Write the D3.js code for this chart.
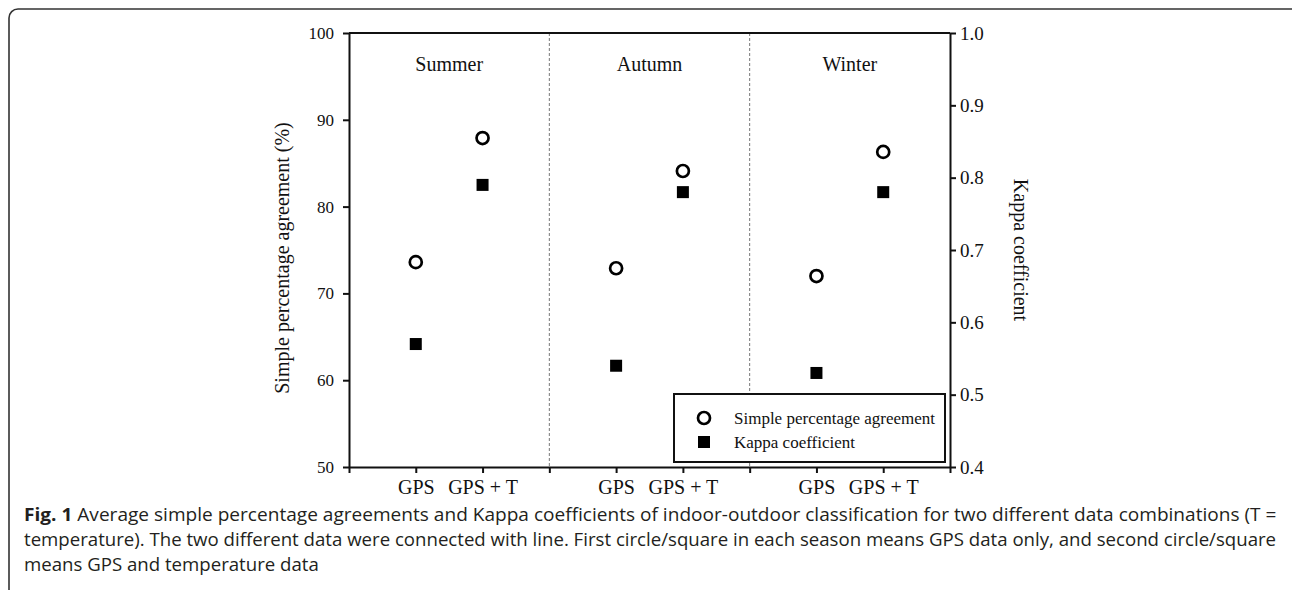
<!DOCTYPE html>
<html>
<head>
<meta charset="utf-8">
<script src="https://cdn.jsdelivr.net/npm/d3@7"></script>
<style>
  body { margin: 0; background: #fff; }
  svg { display: block; }
  .serif { font-family: "Liberation Serif", "Times New Roman", serif; fill: #111; }
  .caption { font-family: "Open Sans", sans-serif; font-size: 17.5px; fill: #231f20; }
</style>
</head>
<body>
<svg id="chart" width="1292" height="590"></svg>
<script>
// data
const seasons = ["Summer", "Autumn", "Winter"];
const combos = ["GPS", "GPS + T"];
const agreement = [73.6, 87.9, 72.9, 84.1, 72.0, 86.3];   // %
const kappa = [0.57, 0.79, 0.54, 0.78, 0.53, 0.78];
const agreementTicks = [50, 60, 70, 80, 90, 100];
const kappaTicks = [0.4, 0.5, 0.6, 0.7, 0.8, 0.9, 1.0];
const captionLines = [
    "Average simple percentage agreements and Kappa coefficients of indoor-outdoor classification for two different data combinations (T =",
    "temperature). The two different data were connected with line. First circle/square in each season means GPS data only, and second circle/square",
    "means GPS and temperature data"
];

const svg = d3.select("#chart");

// outer frame
svg.append("rect")
    .attr("x", 9).attr("y", 9)
    .attr("width", 1300).attr("height", 620)
    .attr("rx", 9).attr("ry", 9)
    .attr("fill", "none")
    .attr("stroke", "#333")
    .attr("stroke-width", 1.6);

const plotLeft = 349, plotRight = 950, plotTop = 33, plotBottom = 467;

// each season takes 3 slots: GPS at 1, GPS + T at 2
const slot = i => Math.floor(i / 2) * 3 + 1 + (i % 2);

const x = d3.scaleLinear().domain([0, 9]).range([plotLeft, plotRight]);
const yL = d3.scaleLinear().domain([50, 100]).range([plotBottom, plotTop]);
const yR = d3.scaleLinear().domain([0.4, 1.0]).range([plotBottom, plotTop]);

// season separators
svg.selectAll("line.sep")
    .data([3, 6])
    .join("line")
    .attr("class", "sep")
    .attr("x1", d => x(d)).attr("x2", d => x(d))
    .attr("y1", plotTop).attr("y2", plotBottom)
    .attr("stroke", "#777")
    .attr("stroke-width", 1)
    .attr("stroke-dasharray", "3,2");

// top border
svg.append("line")
    .attr("x1", plotLeft).attr("x2", plotRight)
    .attr("y1", plotTop).attr("y2", plotTop)
    .attr("stroke", "#111").attr("stroke-width", 2);

// axes
const xAxis = d3.axisBottom(x)
    .tickValues(d3.range(0, 10))
    .tickSize(6).tickSizeOuter(0)
    .tickPadding(7)
    .tickFormat(d => (d % 3 === 0 ? "" : combos[(d % 3) - 1]));

const gx = svg.append("g")
    .attr("transform", `translate(0,${plotBottom})`)
    .call(xAxis);
gx.selectAll("text").attr("class", "serif").attr("font-size", 20);

const gl = svg.append("g")
    .attr("transform", `translate(${plotLeft},0)`)
    .call(d3.axisLeft(yL).tickValues(agreementTicks).tickSize(6).tickSizeOuter(0).tickPadding(9));
gl.selectAll("text").attr("class", "serif").attr("font-size", 17);

const gr = svg.append("g")
    .attr("transform", `translate(${plotRight},0)`)
    .call(d3.axisRight(yR).tickValues(kappaTicks).tickSize(6).tickSizeOuter(0).tickPadding(4)
        .tickFormat(d3.format(".1f")));
gr.selectAll("text").attr("class", "serif").attr("font-size", 19);

svg.selectAll(".domain, .tick line").attr("stroke", "#111").attr("stroke-width", 2);
svg.selectAll("g[font-family]").attr("font-family", null);

// axis titles
svg.append("text")
    .attr("class", "serif")
    .attr("font-size", 20)
    .attr("text-anchor", "middle")
    .attr("transform", `translate(289,${(plotTop + plotBottom) / 2 + 8}) rotate(-90)`)
    .text("Simple percentage agreement (%)");

svg.append("text")
    .attr("class", "serif")
    .attr("font-size", 20)
    .attr("text-anchor", "middle")
    .attr("transform", `translate(1014,${(plotTop + plotBottom) / 2}) rotate(90)`)
    .text("Kappa coefficient");

// season names
svg.selectAll("text.season")
    .data(seasons)
    .join("text")
    .attr("class", "season serif")
    .attr("font-size", 20)
    .attr("text-anchor", "middle")
    .attr("x", (d, i) => x(i * 3 + 1.5))
    .attr("y", 71)
    .text(d => d);

// kappa squares
const sq = 12;
svg.selectAll("rect.kappa")
    .data(kappa)
    .join("rect")
    .attr("class", "kappa")
    .attr("x", (d, i) => x(slot(i)) - sq / 2)
    .attr("y", d => yR(d) - sq / 2)
    .attr("width", sq).attr("height", sq)
    .attr("fill", "#000");

// agreement circles
svg.selectAll("circle.agree")
    .data(agreement)
    .join("circle")
    .attr("class", "agree")
    .attr("cx", (d, i) => x(slot(i)))
    .attr("cy", d => yL(d))
    .attr("r", 6)
    .attr("fill", "#fff")
    .attr("stroke", "#000")
    .attr("stroke-width", 2.7);

// legend
const lg = svg.append("g").attr("transform", "translate(674,394)");
lg.append("rect")
    .attr("width", 271).attr("height", 68)
    .attr("fill", "#fff")
    .attr("stroke", "#111").attr("stroke-width", 2);
lg.append("circle")
    .attr("cx", 30).attr("cy", 24).attr("r", 6)
    .attr("fill", "#fff").attr("stroke", "#000").attr("stroke-width", 2.7);
lg.append("rect")
    .attr("x", 30 - sq / 2).attr("y", 48 - sq / 2)
    .attr("width", sq).attr("height", sq).attr("fill", "#000");
lg.append("text").attr("class", "serif").attr("font-size", 17)
    .attr("x", 60).attr("y", 30).text("Simple percentage agreement");
lg.append("text").attr("class", "serif").attr("font-size", 17)
    .attr("x", 60).attr("y", 54).text("Kappa coefficient");

// caption: condensed look, first two lines fill the width
const capLeft = 24, capWidth = 1253;
const baselines = [521, 546, 571];
let lastScale = 1;
captionLines.forEach((line, i) => {
    const g = svg.append("g").attr("transform", `translate(${capLeft},${baselines[i]})`);
    const t = g.append("text").attr("class", "caption");
    if (i === 0) {
        t.append("tspan").attr("font-weight", "bold").text("Fig. 1");
        t.append("tspan").text(" " + line);
    } else {
        t.text(line);
    }
    const w = t.node().getComputedTextLength();
    const s = i < 2 ? capWidth / w : lastScale;
    lastScale = s;
    g.attr("transform", `translate(${capLeft},${baselines[i]}) scale(${s},1)`);
});
</script>
</body>
</html>
